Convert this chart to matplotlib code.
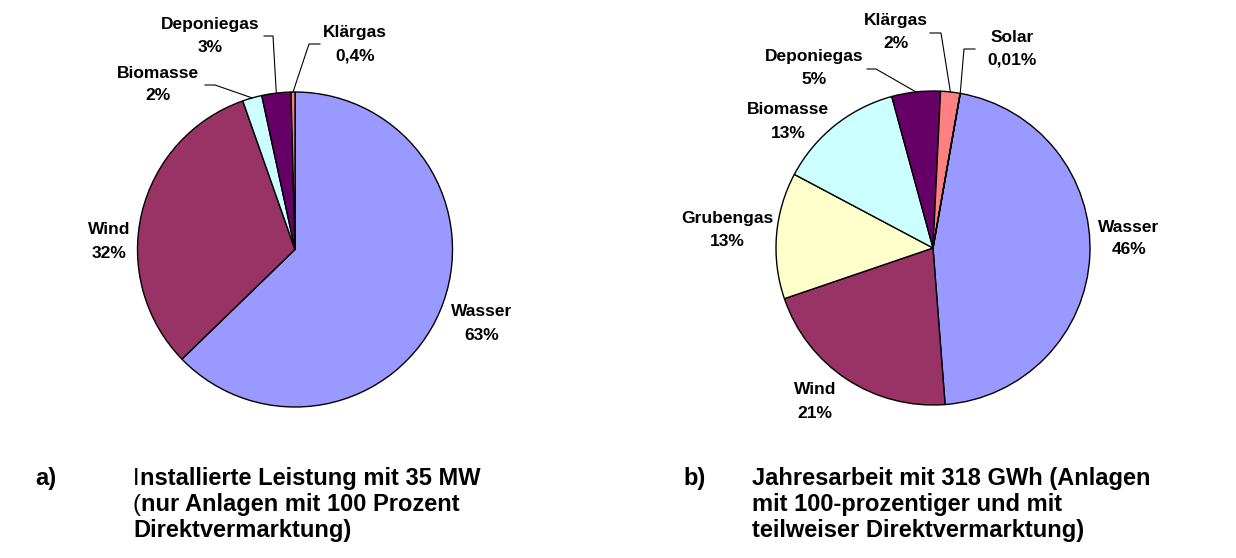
import numpy as np
import matplotlib
matplotlib.use('Agg')
import matplotlib.pyplot as plt

W, H = 1236, 558

# installed capacity (35 MW), clockwise from 12 o'clock
cap_names = ['Wasser', 'Wind', 'Biomasse', 'Deponiegas', 'Klärgas']
cap_values = [63, 32, 2, 3, 0.4]
cap_labels = ['63%', '32%', '2%', '3%', '0,4%']

# annual energy (318 GWh), clockwise
ene_names = ['Wasser', 'Wind', 'Grubengas', 'Biomasse', 'Deponiegas', 'Klärgas', 'Solar']
ene_values = [46, 21, 13, 13, 5, 2, 0.01]
ene_labels = ['46%', '21%', '13%', '13%', '5%', '2%', '0,01%']

palette = {
    'Wasser': '#9999ff',
    'Wind': '#993366',
    'Biomasse': '#ccffff',
    'Deponiegas': '#660066',
    'Klärgas': '#ff8080',
    'Grubengas': '#ffffcc',
    'Solar': '#0066cc',
}

plt.rcParams['font.family'] = ['Liberation Sans', 'DejaVu Sans']

fig = plt.figure(figsize=(W / 100, H / 100), dpi=100)
ax = fig.add_axes([0, 0, 1, 1])


def py(y):
    # pixel row (top-down) -> data y
    return H - y


def draw_pie(names, values, labels, cx, cy, r, start, label_pos, leaders):
    wedges, _ = ax.pie(values, colors=[palette[n] for n in names],
                       center=(cx, py(cy)), radius=r, startangle=start,
                       counterclock=False,
                       wedgeprops=dict(edgecolor='black', linewidth=1.0))
    for w, name, lab in zip(wedges, names, labels):
        x, y = label_pos[name]
        ax.text(x, py(y), name, ha='center', va='center',
                fontsize=12.5, fontweight='bold')
        ax.text(x, py(y + 23), lab, ha='center', va='center',
                fontsize=12.5, fontweight='bold')
        if name in leaders:
            mid = np.deg2rad((w.theta1 + w.theta2) / 2)
            ex, ey = cx + r * np.cos(mid), py(cy) + r * np.sin(mid)
            (x0, y0), (x1, y1) = leaders[name]
            ax.plot([x0, x1, ex], [py(y0), py(y1), ey], color='black', lw=0.8)


draw_pie(cap_names, cap_values, cap_labels, 295, 249.5, 157.5, 90,
         {'Wasser': (482, 312), 'Wind': (109, 230), 'Biomasse': (158, 73),
          'Deponiegas': (210, 25), 'Klärgas': (355, 33)},
         {'Deponiegas': ((264, 36), (273, 36)),
          'Klärgas': ((320, 44), (309, 44)),
          'Biomasse': ((205, 85), (215, 85))})

draw_pie(ene_names, ene_values, ene_labels, 933, 248, 157, 80,
         {'Wasser': (1129, 227), 'Wind': (815, 390), 'Grubengas': (727, 218),
          'Biomasse': (788, 110), 'Deponiegas': (814, 57),
          'Klärgas': (896, 20), 'Solar': (1012, 37)},
         {'Klärgas': ((930, 33), (941, 33)),
          'Solar': ((975, 49), (964, 49)),
          'Deponiegas': ((867, 69), (876, 69))})

# captions
cap_fs = 17
rows = [479, 505, 531]


def caption(xl, xt, tag, lines, thin_first):
    ax.text(xl, py(rows[0]), tag, ha='left', va='center',
            fontsize=cap_fs, fontweight='bold')
    for i, line in enumerate(lines):
        if i in thin_first:
            t = ax.text(xt, py(rows[i]), line[0], ha='left', va='center',
                        fontsize=cap_fs, fontweight='normal')
            ax.annotate(line[1:], xy=(1, 0), xycoords=t, ha='left',
                        va='bottom', fontsize=cap_fs, fontweight='bold')
        else:
            ax.text(xt, py(rows[i]), line, ha='left', va='center',
                    fontsize=cap_fs, fontweight='bold')


caption(35, 133, 'a)', ['Installierte Leistung mit 35 MW',
                        '(nur Anlagen mit 100 Prozent',
                        'Direktvermarktung)'], thin_first=(0, 1))
caption(683, 752, 'b)', ['Jahresarbeit mit 318 GWh (Anlagen',
                         'mit 100-prozentiger und mit',
                         'teilweiser Direktvermarktung)'], thin_first=())

ax.set_xlim(0, W)
ax.set_ylim(0, H)
ax.set_aspect('equal')
ax.axis('off')

fig.savefig('out.png', dpi=100, facecolor='white')
